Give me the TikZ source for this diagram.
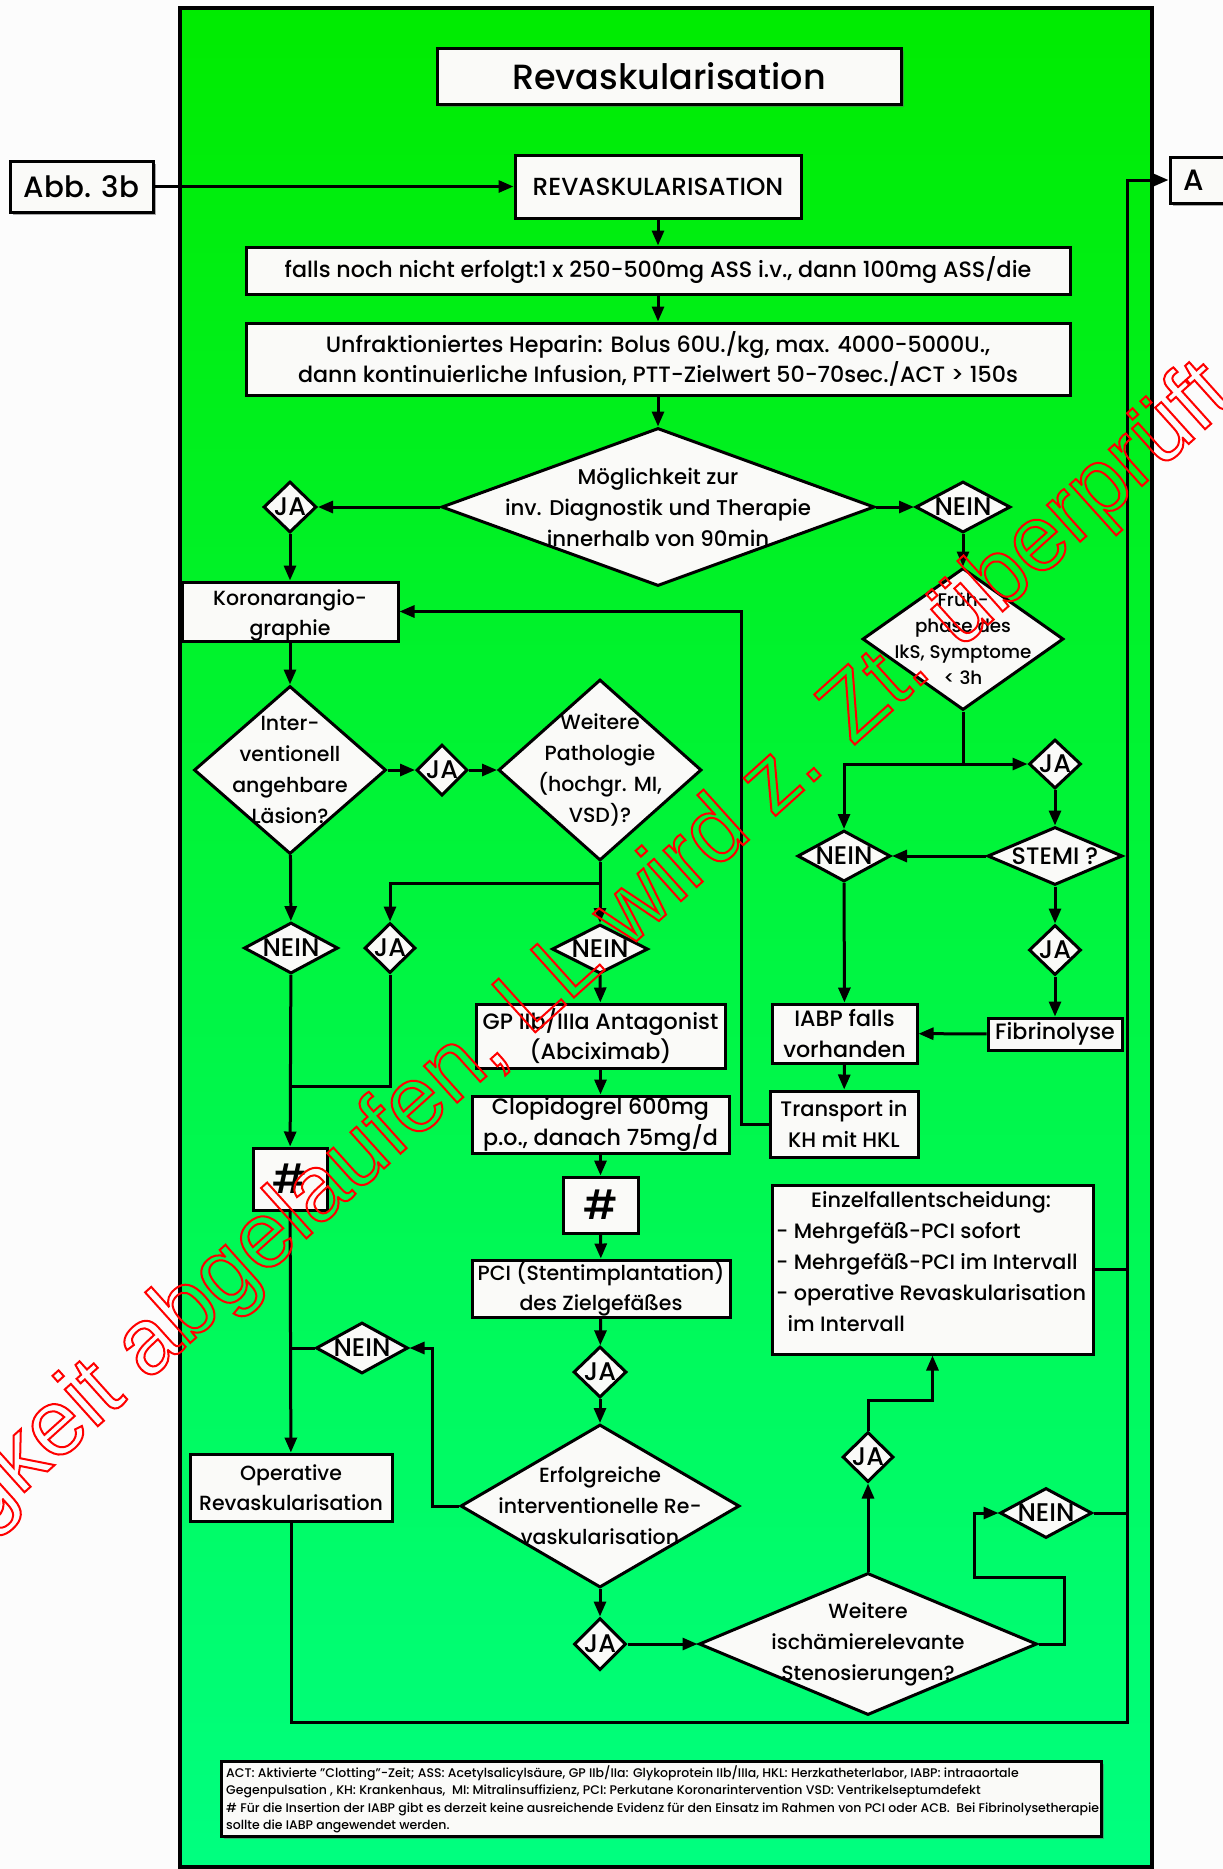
\documentclass[tikz,border=0pt]{standalone}
\usepackage{fontspec}
\setmainfont{Poppins Medium}
\newfontfamily\markfont{Liberation Sans}
\usetikzlibrary{arrows.meta,shadows,shapes.geometric}

\newcommand\fs[2]{\fontsize{#1}{#2}\selectfont}
% outline-only text (PDF text rendering mode 1)
\newcommand\outlined[2]{{\color{#1}\special{pdf:literal direct 1 Tr 2 w}#2\special{pdf:literal direct 0 Tr}}}

\definecolor{panelTop}{RGB}{0,236,0}
\definecolor{panelBot}{RGB}{0,255,128}
\definecolor{paper}{RGB}{252,252,252}
\definecolor{boxFill}{RGB}{250,250,248}

\tikzset{
  line/.style={line width=3pt},
  arr/.style={line width=3pt, -{Triangle[length=15pt,width=12pt]}},
  box/.style={draw, line width=3pt, fill=boxFill, inner sep=0pt},
  dia/.style={draw, diamond, line width=3pt, fill=boxFill, inner sep=0pt},
  txt/.style={align=center, inner sep=0pt, font=\fs{20.5}{30.5}},
  big/.style={font=\fs{22.2}{30.5}},
  lbl/.style={font=\fs{25.5}{30}},
  shadowed/.style={drop shadow={shadow xshift=3pt, shadow yshift=-3pt, fill=black!60, opacity=0.55}},
}

% rectangle given by its corners: name, text style, x1, y1, x2, y2, text
\newcommand\rbox[7]{%
  \node[box, minimum width={#5-#3}, minimum height={#6-#4}] (#1) at ({(#3+#5)/2},{(#4+#6)/2}) {};
  \node[txt,#2] (#1-t) at (#1.center) {#7};}
% decision diamond: name, text style, cx, cy, width, height, text
\newcommand\dbox[7]{%
  \node[dia, minimum width=#5, minimum height=#6] (#1) at (#3,#4) {};
  \node[txt,#2] (#1-t) at (#1.center) {#7};}

\begin{document}
\begin{tikzpicture}[x=1pt,y=-1pt]
\useasboundingbox (0,0) rectangle (1223,1869);
\fill[paper] (0,0) rectangle (1223,1869);

% green panel
\shade[top color=panelTop, bottom color=panelBot] (180,8) rectangle (1152,1869);
\draw[line width=3.5pt] (180,8) rectangle (1152,1867);

% headings and outside references
\node[box, shadowed, minimum width=464, minimum height=56] (title) at (669,76) {};
\node[txt, font=\fs{35}{40}] (title-t) at (title.center) {Revaskularisation};
\node[box, shadowed, minimum width=143, minimum height=51] (abb) at (81.5,186.5) {};
\node[txt, font=\fs{29.4}{30}] (abb-t) at (abb.center) {Abb. 3b};
\node[box, shadowed, minimum width=80, minimum height=46] (abox) at (1210,180) {};
\node[txt, font=\fs{29.4}{30}, anchor=west] (abox-t) at (1183,180) {A};

% main column
\rbox{rev}{font=\fs{24.7}{30}}{515}{155}{801}{218}{REVASKULARISATION}
\rbox{ass}{big}{246}{247}{1070}{294}{falls noch nicht erfolgt:1 x 250-500mg ASS i.v., dann 100mg ASS/die}
\rbox{hep}{big}{246}{323}{1070}{395}{Unfraktioniertes Heparin: Bolus 60U./kg, max. 4000-5000U.,\\dann kontinuierliche Infusion, PTT-Zielwert 50-70sec./ACT > 150s}
\dbox{mog}{font=\fs{21.3}{31}}{658}{507}{433}{158}{Möglichkeit zur\\inv. Diagnostik und Therapie\\innerhalb von 90min}
\dbox{ja1}{lbl}{290}{507}{53}{51}{JA}
\dbox{nein1}{lbl}{963}{507}{95}{51}{NEIN}

% left branch
\rbox{kor}{yshift=-4pt}{182}{582}{398}{641}{Koronarangio-\\graphie}
\dbox{int}{font=\fs{20.5}{31}}{290}{770}{192}{168}{Inter-\\ventionell\\angehbare\\Läsion?}
\dbox{ja2}{lbl}{442}{770}{51}{51}{JA}
\dbox{path}{font=\fs{20.5}{31}}{600}{770}{203}{181}{Weitere\\Pathologie\\(hochgr. MI,\\VSD)?}
\dbox{nein2}{lbl}{291}{948}{94}{51}{NEIN}
\dbox{ja3}{lbl}{390}{948}{51}{50}{JA}
\dbox{nein3}{lbl}{600}{949}{96}{49}{NEIN}
\rbox{hash1}{font=\fs{40}{40}}{253}{1148}{327}{1210}{\#}
\rbox{gp}{big}{476}{1004}{725}{1068}{GP IIb/IIIa Antagonist\\(Abciximab)}
\rbox{clop}{big}{472}{1096}{729}{1153}{Clopidogrel 600mg\\p.o., danach 75mg/d}
\rbox{hash2}{font=\fs{40}{40}}{563}{1177}{638}{1233}{\#}
\rbox{pci}{}{472}{1260}{730}{1317}{PCI (Stentimplantation)\\des Zielgefäßes}
\dbox{ja4}{lbl}{600}{1372}{53}{51}{JA}
\dbox{nein4}{lbl}{362}{1348}{92}{51}{NEIN}
\rbox{op}{}{190}{1454}{392}{1521}{Operative\\Revaskularisation}
\dbox{erf}{font=\fs{20.5}{31}}{600}{1506}{279}{163}{Erfolgreiche\\interventionelle Re-\\vaskularisation}
\dbox{ja5}{lbl}{600}{1644}{52}{52}{JA}
\dbox{wei}{font=\fs{20.5}{31}}{868}{1644}{338}{142}{Weitere\\ischämierelevante\\Stenosierungen?}
\dbox{ja6}{lbl}{868}{1457}{51}{50}{JA}
\dbox{nein5}{lbl}{1046}{1513}{92}{50}{NEIN}
\node[box, minimum width=321, minimum height=169] (einz) at (932.5,1269.5) {};
\node[anchor=north west, inner sep=0pt, font=\fs{20.8}{31}] (einz-t) at (776,1186) {%
  \begin{tabular}{@{}l@{}}
  \multicolumn{1}{@{}c@{}}{Einzelfallentscheidung:}\\
  - Mehrgefäß-PCI sofort\\
  - Mehrgefäß-PCI im Intervall\\
  - operative Revaskularisation\\
  \hspace{0.55em}im Intervall
  \end{tabular}};

% right branch
\dbox{fru}{font=\fs{18.3}{26}}{963}{639}{201}{142}{Früh-\\phase des\\IkS, Symptome\\< 3h}
\dbox{ja7}{lbl}{1055}{764}{52}{49}{JA}
\dbox{nein6}{lbl}{844}{856}{93}{51}{NEIN}
\dbox{stemi}{font=\fs{23.8}{30}}{1055}{856}{135}{58}{STEMI ?}
\dbox{ja8}{lbl}{1055}{950}{52}{50}{JA}
\rbox{fib}{big}{988}{1018}{1122}{1050}{Fibrinolyse}
\rbox{iabp}{big}{772}{1004}{917}{1063}{IABP falls\\vorhanden}
\rbox{trans}{font=\fs{21}{30.5}}{770}{1091}{918}{1157}{Transport in\\KH mit HKL}

% legend
\node[box, shadowed, minimum width=880, minimum height=75] (fn) at (661,1798.5) {};
\node[anchor=north west, align=left, inner sep=0pt, font=\fs{12.5}{17.5}] (fn-t) at (226,1765) {%
ACT: Aktivierte "Clotting"-Zeit; ASS: Acetylsalicylsäure, GP IIb/IIa: Glykoprotein IIb/IIIa, HKL: Herzkatheterlabor, IABP: intraaortale\\
Gegenpulsation , KH: Krankenhaus,\ \ MI: Mitralinsuffizienz, PCI: Perkutane Koronarintervention VSD: Ventrikelseptumdefekt\\
\# Für die Insertion der IABP gibt es derzeit keine ausreichende Evidenz für den Einsatz im Rahmen von PCI oder ACB.\ \ Bei Fibrinolysetherapie\\
sollte die IABP angewendet werden.};

% junction points
\coordinate (br1) at (600,883);
\coordinate (j1) at (291,1086);
\coordinate (c1) at (1127,1722);
\coordinate (c2) at (1127,180);
\coordinate (br2) at (963,764);

% connectors, main column
\draw[arr] (abb) -- (rev);
\draw[arr] (rev) -- (ass);
\draw[arr] (ass) -- (hep);
\draw[arr] (hep) -- (mog);
\draw[arr] (mog) -- (ja1);
\draw[arr] (mog) -- (nein1);
\draw[arr] (ja1) -- (kor);
\draw[arr] (kor) -- (int);
\draw[arr] (int) -- (ja2);
\draw[arr] (ja2) -- (path);
\draw[arr] (int) -- (nein2);
\draw[arr] (path) -- (nein3);
\draw[arr] (br1) -| (ja3.north);
\draw[line] (ja3.south) |- (j1);
\draw[arr] (nein2) -- (hash1);
\draw[arr] (nein3) -- (gp);
\draw[arr] (gp) -- (clop);
\draw[arr] (clop) -- (hash2);
\draw[arr] (hash2) -- (pci);
\draw[arr] (pci) -- (ja4);
\draw[arr] (ja4) -- (erf);
\draw[arr] (erf.west) -- ++(-27,0) |- (nein4.east);
\draw[line] (nein4.west) -- (nein4.west -| hash1);
\draw[arr] (hash1) -- (op);
\draw[arr] (erf) -- (ja5);
\draw[arr] (ja5) -- (wei);
\draw[arr] (op.south) |- (c1) -- (c2) -- (abox.west);
\draw[arr] (wei.north) -- (ja6.south);
\draw[arr] (ja6.north) -- ++(0,-30) -| (einz.south);
\draw[arr] (wei.east) -- ++(26,0) -- ++(0,-67) -- ++(-90,0) |- (nein5.west);
\draw[line] (nein5.east) -- (nein5.east -| c1);
\draw[line] (einz.east) -- (einz.east -| c1);

% connectors, right branch
\draw[arr] (nein1) -- (fru);
\draw[line] (fru.south) -- (br2);
\draw[arr] (br2) -- (ja7.west);
\draw[arr] (br2) -| (nein6.north);
\draw[arr] (ja7) -- (stemi);
\draw[arr] (stemi) -- (nein6);
\draw[arr] (stemi) -- (ja8);
\draw[arr] (ja8) -- (fib);
\draw[arr] (fib) -- (iabp);
\draw[arr] (nein6) -- (iabp);
\draw[arr] (iabp) -- (trans);
\draw[arr] (trans.west) -- ++(-27,0) |- (kor.east);

% outlined stamp across the sheet
\node[rotate=42, anchor=west, inner sep=0pt, font=\markfont\fs{93.5}{95}] (stamp) at (-178,1642)
  {\outlined{red}{Gültigkeit abgelaufen, LL wird z. Zt. überprüft}};
\end{tikzpicture}
\end{document}
